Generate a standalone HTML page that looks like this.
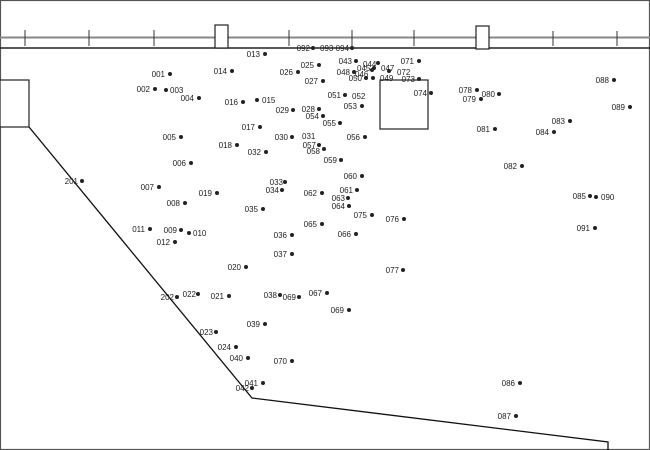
<!DOCTYPE html>
<html><head><meta charset="utf-8"><style>
html,body{margin:0;padding:0;background:#fff}
svg{display:block}
text{font-family:"Liberation Sans",sans-serif;font-size:8px;fill:#222}
</style></head><body>
<svg width="650" height="450" viewBox="0 0 650 450" xmlns="http://www.w3.org/2000/svg">
<rect x="0.5" y="0.5" width="649" height="449" fill="#fff" stroke="#555" stroke-width="1.2"/>
<line x1="0" y1="37.5" x2="650" y2="37.5" stroke="#888" stroke-width="2"/>
<line x1="0" y1="48" x2="650" y2="48" stroke="#222" stroke-width="1.4"/>
<g stroke="#333" stroke-width="1">
<line x1="25" y1="30" x2="25" y2="46"/><line x1="89" y1="30" x2="89" y2="46"/><line x1="154" y1="30" x2="154" y2="46"/>
<line x1="289" y1="30" x2="289" y2="46"/><line x1="352" y1="30" x2="352" y2="46"/><line x1="414" y1="30" x2="414" y2="46"/>
<line x1="553" y1="31" x2="553" y2="46"/><line x1="617" y1="31" x2="617" y2="46"/>
</g>
<rect x="215" y="25" width="13" height="23" fill="#fff" stroke="#222" stroke-width="1.2"/>
<rect x="476" y="26" width="13" height="23" fill="#fff" stroke="#222" stroke-width="1.2"/>
<rect x="0" y="80" width="29" height="47" fill="#fff" stroke="#222" stroke-width="1.2"/>
<rect x="380" y="80" width="48" height="49" fill="none" stroke="#222" stroke-width="1.2"/>
<polyline points="29,127 252,398 608,442 608,450" fill="none" stroke="#111" stroke-width="1.3"/>
<g id="pts"></g>
<g fill="#222">
<!-- dots -->
<circle cx="170" cy="74" r="2"/><circle cx="155" cy="89" r="2"/><circle cx="166" cy="90" r="2"/><circle cx="199" cy="98" r="2"/>
<circle cx="181" cy="137" r="2"/><circle cx="191" cy="163" r="2"/><circle cx="159" cy="187" r="2"/><circle cx="185" cy="203" r="2"/>
<circle cx="181" cy="230" r="2"/><circle cx="189" cy="233" r="2"/><circle cx="150" cy="229" r="2"/><circle cx="175" cy="242" r="2"/>
<circle cx="265" cy="54" r="2"/><circle cx="232" cy="71" r="2"/><circle cx="257" cy="100" r="2"/><circle cx="243" cy="102" r="2"/>
<circle cx="260" cy="127" r="2"/><circle cx="237" cy="145" r="2"/><circle cx="217" cy="193" r="2"/><circle cx="246" cy="267" r="2"/>
<circle cx="229" cy="296" r="2"/><circle cx="198" cy="294" r="2"/><circle cx="177" cy="297" r="2"/><circle cx="216" cy="332" r="2"/>
<circle cx="236" cy="347" r="2"/><circle cx="248" cy="358" r="2"/><circle cx="263" cy="383" r="2"/><circle cx="252" cy="388" r="2"/>
<circle cx="82" cy="181" r="2"/><circle cx="319" cy="65" r="2"/><circle cx="298" cy="72" r="2"/><circle cx="323" cy="81" r="2"/>
<circle cx="293" cy="110" r="2"/><circle cx="319" cy="109" r="2"/><circle cx="323" cy="116" r="2"/><circle cx="340" cy="123" r="2"/>
<circle cx="292" cy="137" r="2"/><circle cx="319" cy="145" r="2"/><circle cx="324" cy="149" r="2"/><circle cx="266" cy="152" r="2"/>
<circle cx="341" cy="160" r="2"/><circle cx="285" cy="182" r="2"/><circle cx="282" cy="190" r="2"/><circle cx="263" cy="209" r="2"/>
<circle cx="292" cy="235" r="2"/><circle cx="292" cy="254" r="2"/><circle cx="280" cy="295" r="2"/><circle cx="299" cy="297" r="2"/>
<circle cx="265" cy="324" r="2"/><circle cx="362" cy="176" r="2"/><circle cx="357" cy="190" r="2"/><circle cx="322" cy="193" r="2"/>
<circle cx="348" cy="198" r="2"/><circle cx="349" cy="206" r="2"/><circle cx="322" cy="224" r="2"/><circle cx="356" cy="234" r="2"/>
<circle cx="327" cy="293" r="2"/><circle cx="349" cy="310" r="2"/><circle cx="292" cy="361" r="2"/><circle cx="372" cy="215" r="2"/>
<circle cx="404" cy="219" r="2"/><circle cx="403" cy="270" r="2"/><circle cx="419" cy="61" r="2"/><circle cx="419" cy="79" r="2"/>
<circle cx="431" cy="93" r="2"/><circle cx="356" cy="61" r="2"/><circle cx="378" cy="63" r="2"/><circle cx="372" cy="70" r="2"/>
<circle cx="374" cy="68" r="2"/><circle cx="389" cy="71" r="2"/><circle cx="354" cy="72" r="2"/><circle cx="373" cy="78" r="2"/>
<circle cx="366" cy="78" r="2"/><circle cx="345" cy="95" r="2"/><circle cx="362" cy="106" r="2"/><circle cx="365" cy="137" r="2"/>
<circle cx="313" cy="48" r="2"/><circle cx="352" cy="48" r="2"/>
<circle cx="477" cy="90" r="2"/><circle cx="481" cy="99" r="2"/><circle cx="499" cy="94" r="2"/><circle cx="495" cy="129" r="2"/>
<circle cx="522" cy="166" r="2"/><circle cx="570" cy="121" r="2"/><circle cx="554" cy="132" r="2"/><circle cx="590" cy="196" r="2"/>
<circle cx="596" cy="197" r="2"/><circle cx="614" cy="80" r="2"/><circle cx="630" cy="107" r="2"/><circle cx="595" cy="228" r="2"/>
<circle cx="520" cy="383" r="2"/><circle cx="516" cy="416" r="2"/>
</g>
<g text-anchor="end">
<text x="165" y="77">001</text><text x="150" y="92">002</text><text x="194" y="101">004</text>
<text x="176" y="140">005</text><text x="186" y="166">006</text><text x="154" y="190">007</text><text x="180" y="206">008</text>
<text x="177" y="233">009</text><text x="145" y="232">011</text><text x="170" y="245">012</text>
<text x="260" y="57">013</text><text x="227" y="74">014</text><text x="238" y="105">016</text><text x="255" y="130">017</text>
<text x="232" y="148">018</text><text x="212" y="196">019</text><text x="241" y="270">020</text><text x="224" y="299">021</text>
<text x="196" y="297">022</text><text x="174" y="300">202</text><text x="213" y="335">023</text><text x="231" y="350">024</text>
<text x="243" y="361">040</text><text x="258" y="386">041</text><text x="249" y="391">042</text><text x="78" y="184">201</text>
<text x="314" y="68">025</text><text x="293" y="75">026</text><text x="318" y="84">027</text>
<text x="289" y="113">029</text><text x="315" y="112">028</text><text x="319" y="119">054</text><text x="336" y="126">055</text>
<text x="288" y="140">030</text><text x="316" y="148">057</text><text x="320" y="154">058</text><text x="261" y="155">032</text>
<text x="337" y="163">059</text><text x="283" y="185">033</text><text x="279" y="193">034</text><text x="258" y="212">035</text>
<text x="287" y="238">036</text><text x="287" y="257">037</text><text x="277" y="298">038</text><text x="296" y="300">069</text>
<text x="260" y="327">039</text><text x="357" y="179">060</text><text x="353" y="193">061</text><text x="317" y="196">062</text>
<text x="345" y="201">063</text><text x="345" y="209">064</text><text x="317" y="227">065</text><text x="351" y="237">066</text>
<text x="322" y="296">067</text><text x="344" y="313">069</text><text x="287" y="364">070</text><text x="367" y="218">075</text>
<text x="399" y="222">076</text><text x="399" y="273">077</text><text x="414" y="64">071</text><text x="415" y="82">073</text>
<text x="427" y="96">074</text><text x="352" y="64">043</text><text x="350" y="75">048</text><text x="362" y="81">050</text>
<text x="341" y="98">051</text><text x="357" y="109">053</text><text x="360" y="140">056</text>
<text x="310" y="51">092</text><text x="349" y="51">094</text>
<text x="472" y="93">078</text><text x="476" y="102">079</text><text x="495" y="97">080</text><text x="490" y="132">081</text>
<text x="517" y="169">082</text><text x="565" y="124">083</text><text x="549" y="135">084</text><text x="586" y="199">085</text>
<text x="609" y="83">088</text><text x="625" y="110">089</text><text x="590" y="231">091</text>
<text x="515" y="386">086</text><text x="511" y="419">087</text>
</g>
<g>
<text x="170" y="93">003</text><text x="193" y="236">010</text><text x="262" y="103">015</text><text x="302" y="139">031</text>
<text x="352" y="99">052</text><text x="320" y="51">093</text><text x="363" y="67">044</text><text x="357" y="71">045</text>
<text x="355" y="77">046</text><text x="381" y="71">047</text><text x="380" y="81">049</text><text x="397" y="75">072</text>
<text x="601" y="200">090</text>
</g>
</svg>
</body></html>
